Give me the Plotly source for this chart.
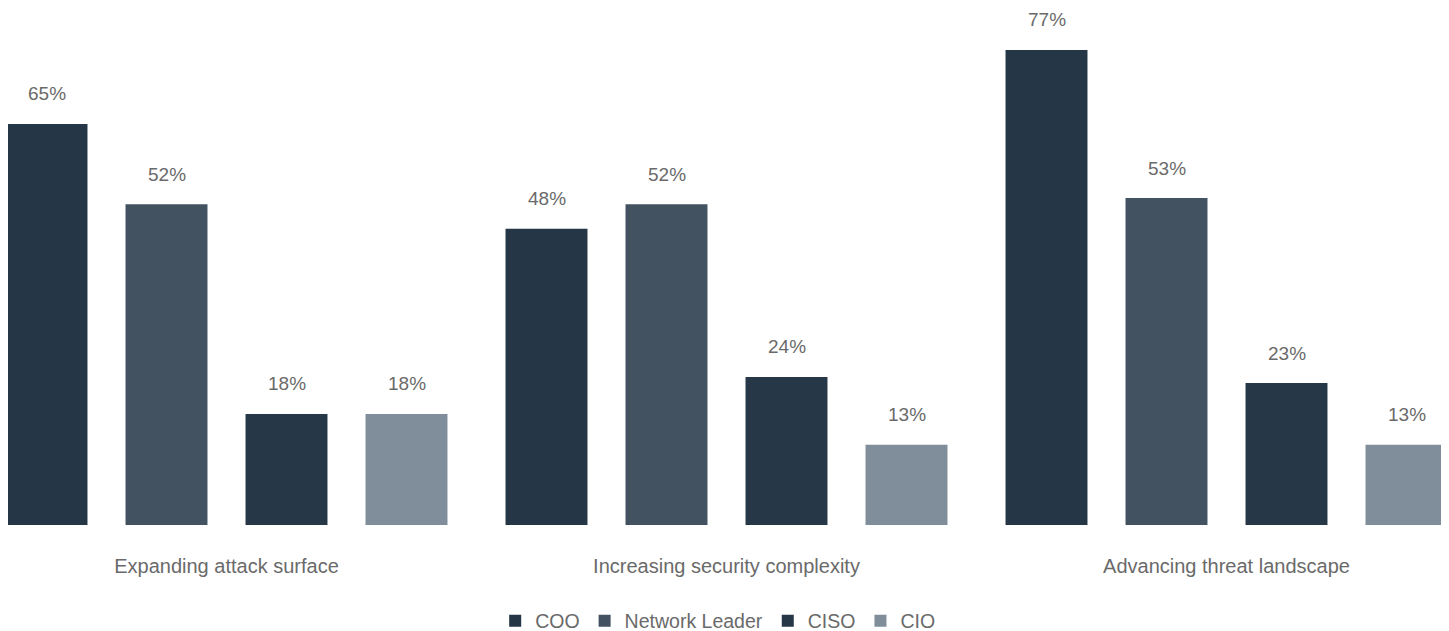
import plotly.graph_objects as go

categories = ["Expanding attack surface", "Increasing security complexity", "Advancing threat landscape"]
series_names = ["COO", "Network Leader", "CISO", "CIO"]
coo = [65, 48, 77]
network_leader = [52, 52, 53]
ciso = [18, 24, 23]
cio = [18, 13, 13]
colors = ["#253646", "#425261", "#263747", "#7f8e9a"]

values = [coo, network_leader, ciso, cio]
xpos = list(range(len(categories)))

FONT = "Liberation Sans, Arial, sans-serif"
TXT = "#6a6a6a"
BARGAP = 0.04
nser = len(series_names)

fig = go.Figure()
for j, (name, vals, col) in enumerate(zip(series_names, values, colors)):
    fig.add_trace(go.Bar(
        x=xpos, y=vals, name=name,
        marker=dict(color=col, line=dict(width=0)),
        hoverinfo="name+y",
    ))
    # value labels placed above each bar via the x/y axes
    slot = (1 - BARGAP) / nser
    for i, v in zip(xpos, vals):
        fig.add_annotation(
            x=i + (j - (nser - 1) / 2) * slot, y=v, xref="x", yref="y",
            text=f"{v}%", showarrow=False, yanchor="middle", yshift=30,
            font=dict(size=19, color=TXT, family=FONT),
        )

fig.update_layout(
    width=1441, height=639,
    barmode="group", bargap=BARGAP, bargroupgap=0.317,
    margin=dict(l=0, r=0, t=0, b=122),
    plot_bgcolor="white", paper_bgcolor="white",
    font=dict(family=FONT, color=TXT, size=19),
    showlegend=True,
    legend=dict(orientation="h", x=0.4925, xanchor="center", y=-0.186, yanchor="middle",
                font=dict(size=19.5, color=TXT, family=FONT),
                itemwidth=30, traceorder="normal"),
    xaxis=dict(range=[-0.437, 2.445], tickmode="array", tickvals=xpos, ticktext=categories,
               showgrid=False, zeroline=False, showline=False,
               ticks="outside", ticklen=23, tickcolor="rgba(0,0,0,0)",
               tickfont=dict(size=20, color=TXT, family=FONT)),
    yaxis=dict(range=[0, 83.8], visible=False, showgrid=False, zeroline=False),
)

fig.write_html("out.html")
